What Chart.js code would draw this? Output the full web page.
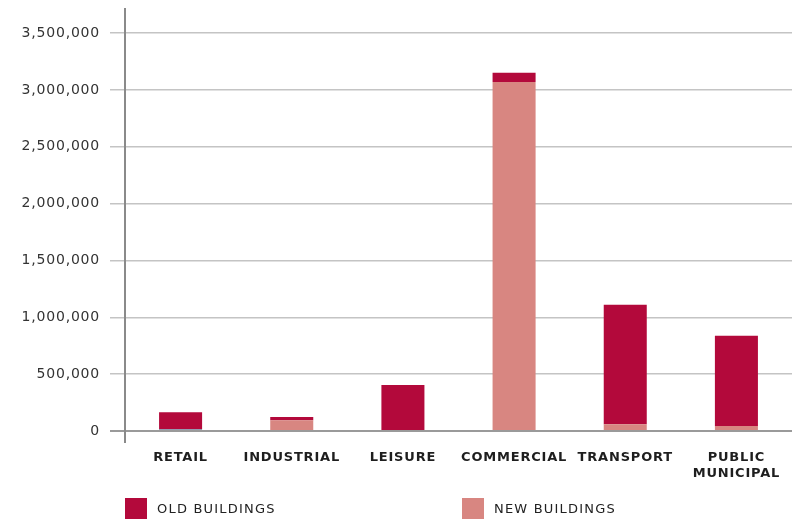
<!DOCTYPE html>
<html>
<head>
  <title>Buildings by sector</title>
  <script src="https://cdn.jsdelivr.net/npm/chart.js"></script>
  <style>
    body { margin: 0; background: #fff; }
    #wrap { position: relative; width: 792px; height: 519px; }
    .legend { position: absolute; top: 498px; height: 21px; display: flex; align-items: center;
      font: 13px "DejaVu Sans", sans-serif; letter-spacing: 1.2px; color: #222; }
    .legend span { display: inline-block; width: 22px; height: 21px; margin-right: 10px; }
  </style>
</head>
<body>
  <div id="wrap">
    <canvas id="myChart" width="792" height="519"></canvas>
    <div class="legend" style="left:125px"><span style="background:#b3093b"></span>OLD BUILDINGS</div>
    <div class="legend" style="left:462px"><span style="background:#d88681"></span>NEW BUILDINGS</div>
  </div>
  <script>
    const categories = ['RETAIL', 'INDUSTRIAL', 'LEISURE', 'COMMERCIAL', 'TRANSPORT', ['PUBLIC', 'MUNICIPAL']];
    const oldBuildings = [150000, 28000, 397000, 80000, 1050000, 793000];
    const newBuildings = [15000, 95000, 8000, 3070000, 60000, 45000];
    const yTicks = [0, 500000, 1000000, 1500000, 2000000, 2500000, 3000000, 3500000];

    const oldColor = '#b3093b';
    const newColor = '#d88681';
    const retailBase = '#7a8fa8'; // retail's new-building strip shows blue-grey in the original

    // y axis line runs a little below zero, drawn by hand
    const axisLine = {
      id: 'axisLine',
      beforeDraw(chart) {
        chart.ctx.letterSpacing = '0.8px';
      },
      afterDraw(chart) {
        const { ctx, chartArea } = chart;
        ctx.save();
        ctx.strokeStyle = '#8a8a8a';
        ctx.lineWidth = 2;
        ctx.beginPath();
        ctx.moveTo(chartArea.left, chartArea.top);
        ctx.lineTo(chartArea.left, chartArea.bottom + 12);
        ctx.stroke();
        ctx.restore();
      }
    };

    var ctx = document.getElementById('myChart').getContext('2d');
    var myChart = new Chart(ctx, {
      type: 'bar',
      data: {
        labels: categories,
        datasets: [
          {
            label: 'NEW BUILDINGS',
            data: newBuildings,
            backgroundColor: c => c.dataIndex === 0 ? retailBase : newColor
          },
          {
            label: 'OLD BUILDINGS',
            data: oldBuildings,
            backgroundColor: oldColor
          }
        ]
      },
      options: {
        responsive: false,
        animation: false,
        barPercentage: 0.387,
        categoryPercentage: 1,
        layout: { padding: { top: 8, right: 0, bottom: 18, left: 0 } },
        plugins: {
          legend: { display: false },
          tooltip: { enabled: false }
        },
        scales: {
          x: {
            stacked: true,
            afterFit: s => { s.paddingLeft = 0; s.paddingRight = 0; },
            border: { display: false },
            grid: { display: false, drawTicks: false },
            ticks: {
              padding: 19,
              color: '#1e1e1e',
              maxRotation: 0,
              autoSkip: false,
              font: { family: 'DejaVu Sans', size: 13, weight: 'bold', lineHeight: 1.23 }
            }
          },
          y: {
            stacked: true,
            min: 0,
            max: 3720000,
            afterFit: s => { s.width = 125; s.paddingTop = 0; s.paddingBottom = 0; },
            afterBuildTicks: s => { s.ticks = yTicks.map(v => ({ value: v })); },
            border: { display: false },
            grid: {
              color: c => c.tick && c.tick.value === 0 ? '#9a9a9a' : '#c4c4c4',
              lineWidth: c => c.tick && c.tick.value === 0 ? 2 : 1.5,
              tickLength: 15
            },
            ticks: {
              padding: 10,
              color: '#333',
              font: { family: 'DejaVu Sans', size: 14 },
              callback: v => v.toLocaleString('en-US')
            }
          }
        }
      },
      plugins: [axisLine]
    });
  </script>
</body>
</html>
